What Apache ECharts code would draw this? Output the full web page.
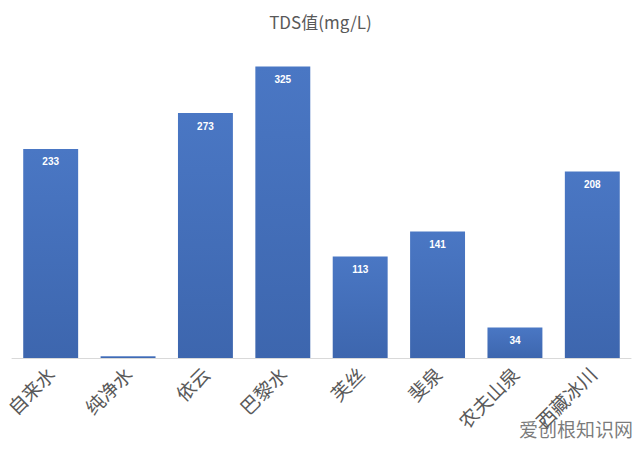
<!DOCTYPE html>
<html><head><meta charset="utf-8">
<script src="https://cdn.jsdelivr.net/npm/echarts@6/dist/echarts.min.js"></script>
<style>html,body{margin:0;background:#fff}#c{width:641px;height:452px}</style>
</head><body><div id="c"></div>
<script>
var categories = ['自来水', '纯净水', '依云', '巴黎水', '芙丝', '斐泉', '农夫山泉', '西藏冰川'];
var tds = [233, 2, 273, 325, 113, 141, 34, 208];

var chart = echarts.init(document.getElementById('c'), null, { renderer: 'svg' });
chart.setOption({
  animation: false,
  title: {
    text: 'TDS值(mg/L)', left: 'center', top: 8,
    textStyle: { color: '#595959', fontSize: 17, fontWeight: 'normal', fontFamily: 'Noto Sans CJK SC' }
  },
  grid: { left: 12, right: 10, top: 44, bottom: 94 },
  xAxis: {
    type: 'category',
    data: categories,
    axisLine: { lineStyle: { color: '#d9d9d9' } },
    axisTick: { show: false },
    axisLabel: { rotate: 45, interval: 0, color: '#595959', fontSize: 19, margin: 12, fontFamily: 'Noto Sans CJK SC' }
  },
  yAxis: { type: 'value', min: 0, max: 350, show: false },
  series: [{
    type: 'bar',
    data: tds,
    barWidth: '71%',
    itemStyle: {
      color: new echarts.graphic.LinearGradient(0, 0, 0, 1, [
        { offset: 0, color: '#4a77c4' }, { offset: 1, color: '#3d66ae' }
      ])
    },
    label: {
      show: true, position: 'insideTop', distance: 8,
      color: '#fff', fontSize: 10, fontWeight: 'bold', fontFamily: 'Liberation Sans'
    }
  }],
  graphic: [{
    type: 'text', right: 8, bottom: 14,
    style: { text: '爱创根知识网', fill: 'rgba(80,80,80,0.75)', fontSize: 19, fontFamily: 'Noto Sans CJK SC' }
  }]
});
</script></body></html>
